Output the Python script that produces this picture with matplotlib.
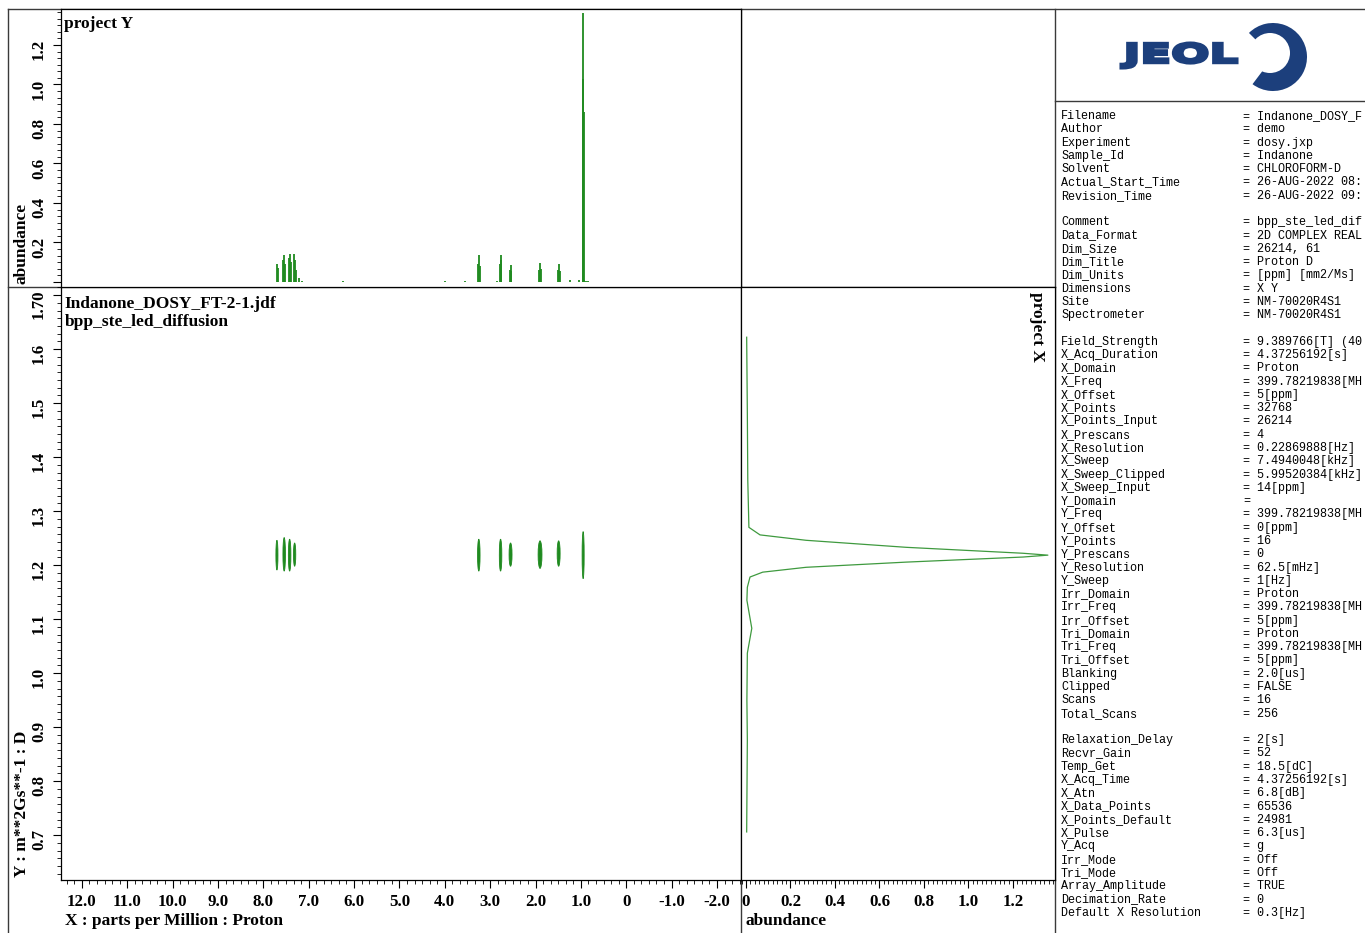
import numpy as np
import matplotlib.pyplot as plt
from matplotlib.ticker import MultipleLocator, AutoMinorLocator, FuncFormatter
from matplotlib.patches import Wedge, Circle, Ellipse, PathPatch
from matplotlib.textpath import TextPath
from matplotlib.font_manager import FontProperties
from matplotlib.transforms import Affine2D

plt.rcParams['font.family'] = 'Liberation Serif'
plt.rcParams['font.weight'] = 'bold'

W, H = 1365, 933
GREEN = '#1f8a1f'
NAVY = '#1c3f7c'

# ---------------------------------------------------------------------------- #
# 1D proton projection (top trace): stick positions [ppm] and abundance
proj_ppm = [7.70, 7.68, 7.56, 7.54, 7.52, 7.44, 7.42, 7.40, 7.32, 7.30, 7.28,
            7.22, 7.15, 6.24, 4.00, 3.55,
            3.27, 3.25, 3.23, 2.85, 2.79, 2.77, 2.75, 2.57, 2.55, 2.53,
            1.92, 1.90, 1.88, 1.51, 1.49, 1.47, 1.23, 1.05,
            0.96, 0.95, 0.94, 0.92, 0.88, 0.85]
proj_abund = [0.093, 0.070, 0.110, 0.135, 0.090, 0.120, 0.144, 0.100, 0.140, 0.110, 0.060,
              0.020, 0.006, 0.004, 0.004, 0.003,
              0.090, 0.135, 0.080, 0.004, 0.090, 0.135, 0.110, 0.060, 0.085, 0.055,
              0.060, 0.097, 0.065, 0.060, 0.090, 0.055, 0.010, 0.008,
              1.030, 1.360, 0.860, 0.012, 0.006, 0.005]

# 2D DOSY cross peaks: proton shift [ppm], diffusion centre, extent in D, extent in ppm
xpk_ppm = [7.70, 7.54, 7.42, 7.31, 3.25, 2.77, 2.55, 1.90, 1.49, 0.95]
xpk_D = [1.2185, 1.2200, 1.2185, 1.2195, 1.2185, 1.2185, 1.2195, 1.2195, 1.2215, 1.2185]
xpk_dD = [0.055, 0.062, 0.059, 0.043, 0.059, 0.059, 0.043, 0.051, 0.047, 0.087]
xpk_dppm = [0.045, 0.055, 0.055, 0.050, 0.055, 0.055, 0.065, 0.085, 0.065, 0.045]

# diffusion projection (right trace): D and abundance
dproj_D = [1.622, 1.481, 1.357, 1.270, 1.256, 1.246, 1.233, 1.222, 1.2185,
           1.215, 1.2056, 1.196, 1.187, 1.178, 1.159, 1.135, 1.083, 1.037,
           0.950, 0.876, 0.706]
dproj_abund = [0.003, 0.006, 0.008, 0.013, 0.063, 0.270, 0.720, 1.245, 1.357,
               1.245, 0.720, 0.270, 0.075, 0.018, 0.006, 0.004, 0.026, 0.006,
               0.004, 0.006, 0.003]

# acquisition parameters listed on the right
info_keys = ['Filename', 'Author', 'Experiment', 'Sample_Id', 'Solvent',
             'Actual_Start_Time', 'Revision_Time', '',
             'Comment', 'Data_Format', 'Dim_Size', 'Dim_Title', 'Dim_Units',
             'Dimensions', 'Site', 'Spectrometer', '',
             'Field_Strength', 'X_Acq_Duration', 'X_Domain', 'X_Freq', 'X_Offset',
             'X_Points', 'X_Points_Input', 'X_Prescans', 'X_Resolution', 'X_Sweep',
             'X_Sweep_Clipped', 'X_Sweep_Input', 'Y_Domain', 'Y_Freq', 'Y_Offset',
             'Y_Points', 'Y_Prescans', 'Y_Resolution', 'Y_Sweep', 'Irr_Domain',
             'Irr_Freq', 'Irr_Offset', 'Tri_Domain', 'Tri_Freq', 'Tri_Offset',
             'Blanking', 'Clipped', 'Scans', 'Total_Scans', '',
             'Relaxation_Delay', 'Recvr_Gain', 'Temp_Get', 'X_Acq_Time', 'X_Atn',
             'X_Data_Points', 'X_Points_Default', 'X_Pulse', 'Y_Acq', 'Irr_Mode',
             'Tri_Mode', 'Array_Amplitude', 'Decimation_Rate', 'Default X Resolution']
info_vals = ['Indanone_DOSY_F', 'demo', 'dosy.jxp', 'Indanone', 'CHLOROFORM-D',
             '26-AUG-2022 08:', '26-AUG-2022 09:', None,
             'bpp_ste_led_dif', '2D COMPLEX REAL', '26214, 61', 'Proton D',
             '[ppm] [mm2/Ms]', 'X Y', 'NM-70020R4S1', 'NM-70020R4S1', None,
             '9.389766[T] (40', '4.37256192[s]', 'Proton', '399.78219838[MH',
             '5[ppm]', '32768', '26214', '4', '0.22869888[Hz]', '7.4940048[kHz]',
             '5.99520384[kHz]', '14[ppm]', '', '399.78219838[MH', '0[ppm]', '16',
             '0', '62.5[mHz]', '1[Hz]', 'Proton', '399.78219838[MH', '5[ppm]',
             'Proton', '399.78219838[MH', '5[ppm]', '2.0[us]', 'FALSE', '16', '256',
             None,
             '2[s]', '52', '18.5[dC]', '4.37256192[s]', '6.8[dB]', '65536', '24981',
             '6.3[us]', 'g', 'Off', 'Off', 'TRUE', '0', '0.3[Hz]']

# ---------------------------------------------------------------------------- #
def box(x0, y0, x1, y1):
    # pixel box (top-left origin) -> figure fraction rect
    return [x0 / W, (H - y1) / H, (x1 - x0) / W, (y1 - y0) / H]

fig = plt.figure(figsize=(W / 100, H / 100), dpi=100)

# background layer in pixel units for frame lines, labels and parameter list
bg = fig.add_axes([0, 0, 1, 1])
bg.set_xlim(0, W)
bg.set_ylim(H, 0)
bg.axis('off')
bg.set_zorder(-1)

ax_m = fig.add_axes(box(61, 287, 741, 880))
ax_t = fig.add_axes(box(61, 9, 741, 287), sharex=ax_m)
ax_r = fig.add_axes(box(741, 287, 1055, 880), sharey=ax_m)

for a in (ax_m, ax_t, ax_r):
    for s in a.spines.values():
        s.set_linewidth(0.9)
    a.tick_params(which='major', direction='out', length=6, width=0.8, labelsize=12.2)
    a.tick_params(which='minor', direction='out', length=3, width=0.6)

# top: 1D projection
ax_t.vlines(proj_ppm, 0, proj_abund, color=GREEN, lw=1.3)
ax_t.set_ylim(-0.0253, 1.382)
ax_t.yaxis.set_major_locator(MultipleLocator(0.2))
ax_t.yaxis.set_minor_locator(AutoMinorLocator(6))
ax_t.yaxis.set_major_formatter(FuncFormatter(lambda v, p: '' if abs(v) < 1e-9 else '%.1f' % v))
ax_t.tick_params(axis='x', which='both', bottom=False, labelbottom=False)
ax_t.tick_params(axis='y', labelrotation=90, pad=4)
ax_t.text(0.005, 0.975, 'project Y', transform=ax_t.transAxes, ha='left', va='top',
          fontsize=12.5)

# main: 2D DOSY map
for p, d, dd, dp in zip(xpk_ppm, xpk_D, xpk_dD, xpk_dppm):
    ax_m.add_patch(Ellipse((p, d), dp, dd, facecolor=GREEN, edgecolor=GREEN, lw=0.6))
ax_m.set_xlim(12.46, -2.53)
ax_m.set_ylim(0.617, 1.715)
ax_m.xaxis.set_major_locator(MultipleLocator(1.0))
ax_m.xaxis.set_minor_locator(AutoMinorLocator(6))
ax_m.xaxis.set_major_formatter(FuncFormatter(lambda v, p: '0' if abs(v) < 1e-9 else '%.1f' % v))
ax_m.yaxis.set_major_locator(MultipleLocator(0.1))
ax_m.yaxis.set_minor_locator(AutoMinorLocator(7))
ax_m.yaxis.set_major_formatter(FuncFormatter(lambda v, p: '1.70' if abs(v - 1.7) < 1e-6 else '%.1f' % v))
ax_m.tick_params(axis='y', labelrotation=90, pad=4)
ax_m.tick_params(axis='x', pad=4)
ax_m.text(0.005, 0.985, 'Indanone_DOSY_FT-2-1.jdf\nbpp_ste_led_diffusion',
          transform=ax_m.transAxes, ha='left', va='top', fontsize=12.5, linespacing=1.2)

# right: diffusion projection
ax_r.plot(dproj_abund, dproj_D, color='#3f9a3f', lw=0.9)
ax_r.set_xlim(-0.0225, 1.389)
ax_r.xaxis.set_major_locator(MultipleLocator(0.2))
ax_r.xaxis.set_minor_locator(AutoMinorLocator(10))
ax_r.xaxis.set_major_formatter(FuncFormatter(lambda v, p: '0' if abs(v) < 1e-9 else '%.1f' % v))
ax_r.tick_params(axis='y', which='both', left=False, labelleft=False)
ax_r.tick_params(axis='x', pad=4)
ax_r.text(0.943, 0.992, 'project X', transform=ax_r.transAxes, ha='center', va='top',
          rotation=270, fontsize=12.5)

# axis titles
bg.text(22, 284, 'abundance', rotation=90, ha='center', va='bottom', fontsize=12.5)
bg.text(22, 877, 'Y : m**2Gs**-1 : D', rotation=90, ha='center', va='bottom', fontsize=12.5)
bg.text(65, 921, 'X : parts per Million : Proton', ha='left', va='center', fontsize=12.5)
bg.text(745, 921, 'abundance', ha='left', va='center', fontsize=12.5)

# frame lines
fc = '#3a3a3a'
bg.plot([8, W], [9, 9], color=fc, lw=1.0)
bg.plot([8, 8], [9, H], color=fc, lw=1.0)
bg.plot([8, 1055], [287, 287], color=fc, lw=1.0)
bg.plot([741, 741], [9, H], color=fc, lw=1.0)
bg.plot([1055, 1055], [9, H], color=fc, lw=1.0)
bg.plot([1055, W], [101, 101], color=fc, lw=1.0)

# logo: heavy wordmark stretched into its box, then the ring
tp = TextPath((0, 0), 'JEOL', size=1, prop=FontProperties(family='DejaVu Sans', weight='bold'))
ext = tp.get_extents()
sx = (1237 - 1121) / ext.width
sy = (68 - 43) / ext.height
tr = Affine2D().translate(-ext.x0, -ext.y0).scale(sx, -sy).translate(1121, 68)
bg.add_patch(PathPatch(tr.transform_path(tp), facecolor=NAVY, edgecolor=NAVY, lw=2.2,
                       joinstyle='miter'))
bg.add_patch(Wedge((1273, 57), 34, -135, 127, facecolor=NAVY, edgecolor='none'))
bg.add_patch(Circle((1270, 53), 20, facecolor='white', edgecolor='none'))

# parameter list
y0, dy = 116, 13.28
for i, (k, v) in enumerate(zip(info_keys, info_vals)):
    y = y0 + i * dy
    if k:
        bg.text(1061, y, k, ha='left', va='center', fontsize=8.5,
                family='Liberation Mono', weight='normal', color='black')
    if v is not None:
        bg.text(1243, y, ('= ' + v).rstrip(), ha='left', va='center', fontsize=8.5,
                family='Liberation Mono', weight='normal', color='black')

fig.savefig('out.png', dpi=100)
